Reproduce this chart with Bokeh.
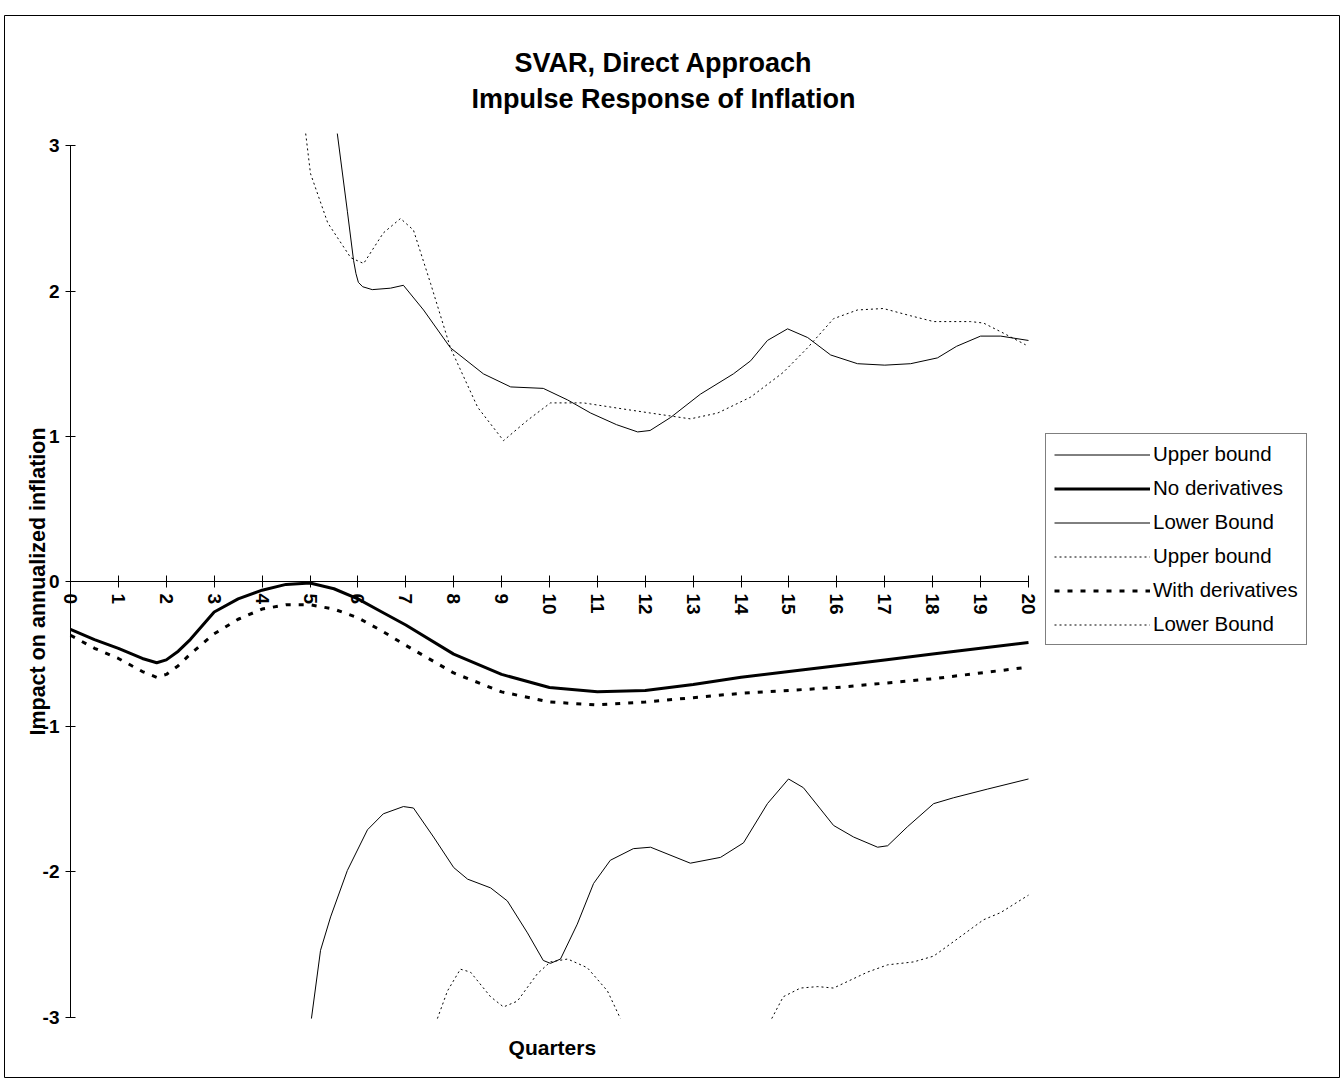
import math
from bokeh.plotting import figure
from bokeh.models import Range1d, FixedTicker, Legend, LegendItem, Label
from bokeh.embed import file_html
from bokeh.resources import INLINE

NaN = float("nan")

# ---------------- data ----------------
x_ticks = list(range(21))
y_ticks = [-3, -2, -1, 0, 1, 2, 3]

# No derivatives: point estimate (thick solid)
nd_q = [0, 0.5, 1, 1.5, 1.8, 2, 2.25, 2.5, 3, 3.5, 4, 4.5, 5, 5.5, 6, 6.5, 7, 8, 9, 10, 11, 12, 13, 14, 15, 16, 17,
        18, 19, 20]
nd_v = [-0.33, -0.40, -0.46, -0.53, -0.56, -0.54, -0.48, -0.40, -0.21, -0.12, -0.06, -0.02, -0.01, -0.05, -0.12,
        -0.21, -0.30, -0.50, -0.64, -0.73, -0.76, -0.75, -0.71, -0.66, -0.62, -0.58, -0.54, -0.50, -0.46, -0.42]

# No derivatives: upper bound (thin solid), visible part (clipped at the top of the plot area)
ndu_q = [5.57, 5.78, 5.91, 5.96, 6.01, 6.1, 6.3, 6.68, 6.95, 7.37, 7.93, 8.62, 9.19, 9.87, 10.38, 10.86, 11.4, 11.84,
         12.1, 12.53, 13.15, 13.84, 14.2, 14.55, 14.97, 15.39, 15.87, 16.43, 17.0, 17.54, 18.1, 18.5, 19.0, 19.42, 20.0]
ndu_v = [3.085, 2.55, 2.21, 2.12, 2.06, 2.03, 2.01, 2.02, 2.04, 1.87, 1.61, 1.43, 1.34, 1.33, 1.25, 1.16, 1.08, 1.03,
         1.04, 1.13, 1.29, 1.43, 1.52, 1.66, 1.74, 1.68, 1.56, 1.50, 1.49, 1.50, 1.54, 1.62, 1.69, 1.69, 1.66]

# No derivatives: lower bound (thin solid), visible part
ndl_q = [5.03, 5.22, 5.43, 5.78, 6.2, 6.53, 6.95, 7.16, 7.58, 8.0, 8.29, 8.77, 9.12, 9.54, 9.87, 10.02, 10.23,
         10.58, 10.92, 11.27, 11.75, 12.11, 12.94, 13.57, 14.05, 14.55, 14.99, 15.3, 15.93, 16.35, 16.85, 17.06, 17.47,
         18.02, 18.43, 19.14, 20.0]
ndl_v = [-3.01, -2.54, -2.31, -1.99, -1.71, -1.60, -1.55, -1.56, -1.76, -1.97, -2.05, -2.11, -2.20, -2.42, -2.61,
         -2.63, -2.60, -2.36, -2.08, -1.92, -1.84, -1.83, -1.94, -1.90, -1.80, -1.53, -1.36, -1.42, -1.68, -1.76, -1.83,
         -1.82, -1.69, -1.53, -1.49, -1.43, -1.36]

# With derivatives: point estimate (thick dashed)
wd_q = [0, 0.5, 1, 1.5, 1.8, 2, 2.25, 2.5, 3, 3.5, 4, 4.5, 5, 5.5, 6, 6.5, 7, 8, 9, 10, 11, 12, 13, 14, 15, 16, 17,
        18, 19, 20]
wd_v = [-0.37, -0.46, -0.53, -0.62, -0.66, -0.64, -0.58, -0.50, -0.36, -0.26, -0.19, -0.16, -0.16, -0.19, -0.25,
        -0.34, -0.44, -0.63, -0.76, -0.83, -0.85, -0.83, -0.80, -0.77, -0.75, -0.73, -0.70, -0.67, -0.63, -0.59]

# With derivatives: upper bound (thin dotted), visible part
wdu_q = [4.91, 5.01, 5.37, 5.85, 6.12, 6.53, 6.89, 7.16, 7.52, 7.93, 8.5, 9.04, 9.54, 10.02, 10.71, 11.5, 12.11,
         12.94, 13.51, 14.2, 14.88, 15.39, 15.93, 16.43, 16.97, 17.54, 18.02, 18.79, 19.06, 19.48, 19.94]
wdu_v = [3.085, 2.81, 2.47, 2.23, 2.19, 2.40, 2.50, 2.42, 2.05, 1.61, 1.20, 0.97, 1.11, 1.23, 1.23, 1.19, 1.16,
         1.12, 1.16, 1.27, 1.44, 1.61, 1.81, 1.87, 1.88, 1.83, 1.79, 1.79, 1.78, 1.71, 1.63]

# With derivatives: lower bound (thin dotted), visible parts (below -3 in between)
wdl_q = [7.66, 7.87, 8.14, 8.35, 8.77, 9.04, 9.33, 9.75, 10.02, 10.38, 10.79, 11.21, 11.48, NaN,
         14.64, 14.88, 15.24, 15.6, 15.93, 16.64, 17.06, 17.6, 18.02, 18.52, 19.06, 19.42, 20.0]
wdl_v = [-3.01, -2.82, -2.67, -2.69, -2.86, -2.93, -2.89, -2.70, -2.62, -2.60, -2.66, -2.82, -3.01, NaN,
         -3.01, -2.86, -2.80, -2.79, -2.80, -2.69, -2.64, -2.62, -2.58, -2.46, -2.33, -2.28, -2.16]

title_1 = "SVAR, Direct Approach"
title_2 = "Impulse Response of Inflation"
x_title = "Quarters"
y_title = "Impact on annualized inflation"
legend_labels = ["Upper bound", "No derivatives", "Lower Bound", "Upper bound", "With derivatives", "Lower Bound"]

# ---------------- figure ----------------
FONT = "Liberation Sans"
INK = "black"
p = figure(width=1340, height=1078, output_backend="svg", toolbar_location=None,
           x_range=Range1d(-1.378, 26.514), y_range=Range1d(-3.416, 3.898))
p.title.visible = False
p.min_border_left = 4
p.min_border_right = 0
p.min_border_bottom = 1
p.min_border_top = 15
p.outline_line_color = INK
p.outline_line_width = 1
p.grid.visible = False
p.background_fill_color = "white"
p.border_fill_color = "white"

# x axis drawn through y = 0
xa = p.xaxis[0]
xa.fixed_location = 0
xa.bounds = (0, 20)
xa.ticker = FixedTicker(ticks=x_ticks)
xa.major_tick_in = 6
xa.major_tick_out = 6
xa.minor_tick_line_color = None
xa.major_label_orientation = -math.pi / 2
xa.major_label_standoff = 6
xa.major_label_text_font = FONT
xa.major_label_text_font_style = "bold"
xa.major_label_text_font_size = "19px"
xa.major_label_text_color = INK
xa.axis_line_color = INK
xa.major_tick_line_color = INK

# y axis drawn through x = 0
ya = p.yaxis[0]
ya.fixed_location = 0
ya.ticker = FixedTicker(ticks=y_ticks)
ya.major_label_overrides = {t: str(t) for t in y_ticks}
ya.bounds = (-3, 3)
ya.major_tick_in = 5
ya.major_tick_out = 5
ya.minor_tick_line_color = None
ya.major_label_standoff = 6
ya.major_label_text_font = FONT
ya.major_label_text_font_style = "bold"
ya.major_label_text_font_size = "19px"
ya.major_label_text_color = INK
ya.axis_label = y_title
ya.axis_label_text_font = FONT
ya.axis_label_text_font_style = "bold"
ya.axis_label_text_font_size = "21.5px"
ya.axis_label_text_color = INK
ya.axis_label_standoff = -10
ya.axis_line_color = INK
ya.major_tick_line_color = INK

r_ndu = p.line(ndu_q, ndu_v, line_color=INK, line_width=1)
r_nd = p.line(nd_q, nd_v, line_color=INK, line_width=3)
r_ndl = p.line(ndl_q, ndl_v, line_color=INK, line_width=1)
r_wdu = p.line(wdu_q, wdu_v, line_color=INK, line_width=1, line_dash="2 3")
r_wd = p.line(wd_q, wd_v, line_color=INK, line_width=3, line_dash="5 8")
r_wdl = p.line(wdl_q, wdl_v, line_color=INK, line_width=1, line_dash="2 3")

renderers = [r_ndu, r_nd, r_ndl, r_wdu, r_wd, r_wdl]
legend = Legend(items=[LegendItem(label=lab, renderers=[r]) for lab, r in zip(legend_labels, renderers)],
                location=(1041, 432), orientation="vertical",
                border_line_color=INK, border_line_width=1,
                background_fill_color="white", background_fill_alpha=1,
                label_text_font=FONT, label_text_font_size="20.5px", label_text_color=INK,
                glyph_width=96, glyph_height=23, label_height=23, label_standoff=3,
                spacing=10, padding=8, margin=0)
p.add_layout(legend)

p.add_layout(Label(x=12.38, y=3.574, text=title_1, text_align="center", text_baseline="middle",
                   text_font=FONT, text_font_style="bold", text_font_size="27px", text_color=INK))
p.add_layout(Label(x=12.38, y=3.326, text=title_2, text_align="center", text_baseline="middle",
                   text_font=FONT, text_font_style="bold", text_font_size="27px", text_color=INK))
p.add_layout(Label(x=10.06, y=-3.21, text=x_title, text_align="center", text_baseline="middle",
                   text_font=FONT, text_font_style="bold", text_font_size="21px", text_color=INK))

open("out.html", "w").write(file_html(p, INLINE))
